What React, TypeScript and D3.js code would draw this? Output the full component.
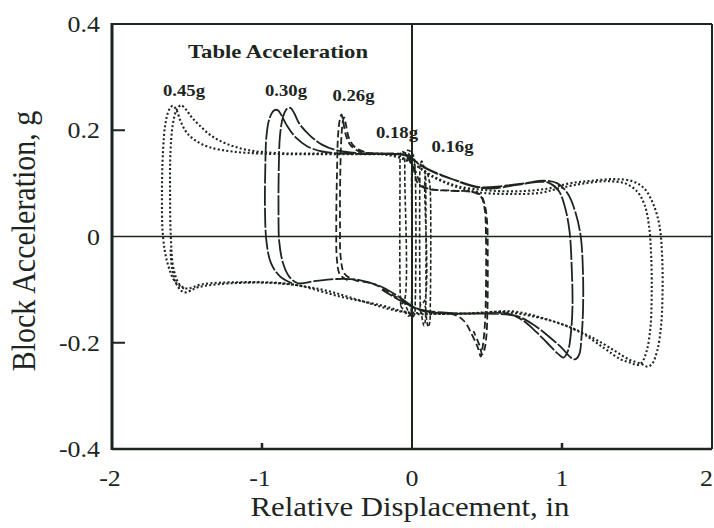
import React from "react";
import * as d3 from "d3";

type P = [number, number];

const xTicks = [-2, -1, 0, 1, 2];
const yTicks = [0.4, 0.2, 0, -0.2, -0.4];
const xTickLabels = ["-2", "-1", "0", "1", "2"];
const yTickLabels = ["0.4", "0.2", "0", "-0.2", "-0.4"];
const xMinorTicks = [-1, 1];
const yMinorTicks = [0.2, -0.2];

const seriesNames = ["0.45g", "0.30g", "0.26g", "0.18g", "0.16g"];

// 0.45g table acceleration (two cycles)
const loop045: P[] = [
  [-1.52, -0.098], [-1.58, -0.085], [-1.63, -0.05], [-1.66, 0.0], [-1.667, 0.08], [-1.66, 0.16],
  [-1.645, 0.21], [-1.62, 0.238], [-1.595, 0.246], [-1.57, 0.238], [-1.54, 0.215], [-1.5, 0.195],
  [-1.44, 0.18], [-1.35, 0.168], [-1.2, 0.16], [-1.0, 0.156], [-0.7, 0.155], [-0.4, 0.155],
  [-0.15, 0.153], [0.0, 0.138], [0.12, 0.115], [0.28, 0.095], [0.45, 0.083], [0.65, 0.08],
  [0.85, 0.082], [1.0, 0.092], [1.15, 0.1], [1.3, 0.104], [1.42, 0.1], [1.5, 0.085], [1.55, 0.06],
  [1.58, 0.02], [1.595, -0.04], [1.598, -0.11], [1.59, -0.17], [1.565, -0.215], [1.53, -0.238],
  [1.5, -0.242], [1.46, -0.238], [1.39, -0.231], [1.28, -0.21], [1.12, -0.18], [0.9, -0.156],
  [0.67, -0.141], [0.4, -0.145], [0.15, -0.146], [0.0, -0.145], [-0.2, -0.13], [-0.48, -0.113],
  [-0.8, -0.09], [-1.15, -0.086], [-1.4, -0.09], [-1.5, -0.098],
  [-1.55, -0.09], [-1.59, -0.06], [-1.608, 0.0], [-1.613, 0.08], [-1.61, 0.16], [-1.595, 0.21],
  [-1.57, 0.238], [-1.54, 0.247], [-1.51, 0.24], [-1.47, 0.225], [-1.42, 0.21], [-1.34, 0.19],
  [-1.24, 0.175], [-1.1, 0.163], [-0.9, 0.157], [-0.6, 0.156], [-0.3, 0.155], [-0.1, 0.152],
  [0.02, 0.135], [0.15, 0.112], [0.3, 0.095], [0.5, 0.087], [0.7, 0.085], [0.9, 0.09], [1.05, 0.1],
  [1.2, 0.105], [1.35, 0.108], [1.47, 0.104], [1.55, 0.09], [1.61, 0.06], [1.65, 0.02],
  [1.668, -0.04], [1.67, -0.11], [1.66, -0.17], [1.635, -0.215], [1.6, -0.24], [1.57, -0.245],
  [1.53, -0.24], [1.45, -0.232], [1.35, -0.215], [1.2, -0.19], [1.0, -0.165], [0.8, -0.15],
  [0.6, -0.142], [0.35, -0.145], [0.1, -0.145], [-0.1, -0.14], [-0.35, -0.12], [-0.6, -0.1],
  [-0.9, -0.088], [-1.2, -0.088], [-1.42, -0.095], [-1.52, -0.105], [-1.57, -0.09], [-1.6, -0.06],
  [-1.61, -0.02],
];

// 0.30g table acceleration (two cycles)
const loop030: P[] = [
  [-0.8, -0.088], [-0.88, -0.075], [-0.94, -0.05], [-0.97, -0.01], [-0.98, 0.05], [-0.978, 0.13],
  [-0.97, 0.19], [-0.95, 0.222], [-0.92, 0.237], [-0.895, 0.238], [-0.87, 0.228], [-0.83, 0.207],
  [-0.77, 0.185], [-0.7, 0.17], [-0.6, 0.16], [-0.45, 0.156], [-0.2, 0.155], [-0.05, 0.153],
  [0.02, 0.142], [0.1, 0.128], [0.25, 0.11], [0.4, 0.095], [0.52, 0.09], [0.7, 0.097], [0.85, 0.103],
  [0.92, 0.1], [0.98, 0.085], [1.02, 0.055], [1.05, 0.01], [1.065, -0.06], [1.07, -0.13],
  [1.06, -0.18], [1.04, -0.215], [1.01, -0.228], [0.97, -0.22], [0.9, -0.2], [0.83, -0.18],
  [0.74, -0.158], [0.64, -0.145], [0.45, -0.145], [0.2, -0.143], [0.03, -0.135], [-0.08, -0.115],
  [-0.2, -0.095], [-0.35, -0.082], [-0.5, -0.08], [-0.65, -0.084], [-0.76, -0.088],
  [-0.82, -0.075], [-0.86, -0.05], [-0.885, -0.01], [-0.89, 0.05], [-0.888, 0.13], [-0.88, 0.19],
  [-0.86, 0.225], [-0.835, 0.24], [-0.81, 0.242], [-0.785, 0.232], [-0.75, 0.212], [-0.68, 0.19],
  [-0.6, 0.173], [-0.5, 0.162], [-0.35, 0.157], [-0.15, 0.156], [-0.02, 0.152], [0.05, 0.135],
  [0.15, 0.12], [0.3, 0.105], [0.45, 0.093], [0.6, 0.095], [0.75, 0.1], [0.88, 0.105], [0.97, 0.1],
  [1.04, 0.08], [1.09, 0.045], [1.125, 0.0], [1.14, -0.07], [1.14, -0.14], [1.13, -0.19],
  [1.115, -0.222], [1.09, -0.231], [1.06, -0.228], [1.0, -0.21], [0.92, -0.19], [0.82, -0.168],
  [0.7, -0.15], [0.5, -0.145], [0.25, -0.145], [0.08, -0.14], [-0.05, -0.125], [-0.2, -0.1],
];

// 0.26g table acceleration (two cycles)
const loop026: P[] = [
  [-0.43, -0.082], [-0.48, -0.072], [-0.5, -0.045], [-0.505, 0.02], [-0.5, 0.12], [-0.493, 0.19],
  [-0.48, 0.222], [-0.47, 0.23], [-0.458, 0.215], [-0.44, 0.19], [-0.41, 0.172], [-0.35, 0.16],
  [-0.2, 0.156], [-0.06, 0.154], [0.0, 0.135], [0.04, 0.1], [0.1, 0.09], [0.25, 0.086], [0.4, 0.084],
  [0.46, 0.075], [0.485, 0.05], [0.493, 0.0], [0.493, -0.1], [0.485, -0.17], [0.47, -0.21],
  [0.458, -0.226], [0.44, -0.21], [0.4, -0.185], [0.35, -0.16], [0.28, -0.147], [0.12, -0.143],
  [0.02, -0.135], [-0.1, -0.115], [-0.25, -0.09], [-0.38, -0.082],
  [-0.45, -0.07], [-0.475, -0.04], [-0.48, 0.02], [-0.478, 0.12], [-0.47, 0.19], [-0.46, 0.218],
  [-0.452, 0.224], [-0.44, 0.21], [-0.42, 0.185], [-0.38, 0.168], [-0.3, 0.158], [-0.15, 0.155],
  [-0.03, 0.152], [0.02, 0.125], [0.07, 0.095], [0.15, 0.088], [0.3, 0.086], [0.45, 0.08],
  [0.48, 0.065], [0.5, 0.03], [0.505, -0.05], [0.503, -0.14], [0.495, -0.19], [0.48, -0.216],
  [0.468, -0.222], [0.45, -0.205], [0.41, -0.178],
];

// 0.18g table acceleration (two cycles)
const loop018: P[] = [
  [-0.075, -0.13], [-0.08, -0.09], [-0.08, 0.1], [-0.078, 0.15], [-0.07, 0.16], [-0.05, 0.158],
  [-0.02, 0.155], [-0.005, 0.145], [-0.003, 0.1], [-0.003, -0.12], [-0.01, -0.145], [-0.025, -0.15],
  [-0.05, -0.14], [-0.075, -0.13],
  [-0.05, -0.12], [-0.048, 0.12], [-0.045, 0.155], [-0.035, 0.162], [-0.01, 0.16], [0.01, 0.152],
  [0.02, 0.13], [0.022, -0.12], [0.015, -0.148], [0.0, -0.152], [-0.03, -0.138], [-0.048, -0.125],
];

// 0.16g table acceleration (two cycles)
const loop016: P[] = [
  [0.055, -0.13], [0.052, -0.08], [0.052, 0.1], [0.055, 0.135], [0.065, 0.142], [0.08, 0.13],
  [0.09, 0.112], [0.092, 0.08], [0.092, -0.13], [0.088, -0.16], [0.08, -0.168], [0.065, -0.15],
  [0.055, -0.13],
  [0.085, -0.12], [0.085, 0.1], [0.09, 0.115], [0.1, 0.118], [0.115, 0.105], [0.122, 0.085],
  [0.122, -0.13], [0.118, -0.162], [0.108, -0.17], [0.095, -0.15], [0.087, -0.13],
];

const loops = [loop045, loop030, loop026, loop018, loop016];
const dashes = ["2,2.3", "20,2", "7,3.5", "4,2.2", "4,2.2"];
const widths = [2.1, 1.8, 1.8, 1.6, 1.6];
// label anchor in data units (center x, baseline y)
const labelX = [-1.52, -0.84, -0.39, -0.1, 0.27];
const labelY = [0.265, 0.265, 0.255, 0.185, 0.16];

const W = 714;
const H = 528;
const ink = "#1d251f";
const serif = "'Liberation Serif', 'Times New Roman', Times, serif";

export default function App() {
  const x = d3.scaleLinear().domain([-2, 2]).range([112, 712]);
  const y = d3.scaleLinear().domain([-0.4, 0.4]).range([449, 24]);
  const line = d3
    .line<P>()
    .x((d) => x(d[0]))
    .y((d) => y(d[1]))
    .curve(d3.curveCatmullRom.alpha(0.5));

  const tStyle = { fontFamily: serif };

  return (
    <svg
      width={W}
      height={H}
      viewBox={`0 0 ${W} ${H}`}
      style={{ position: "absolute", left: 0, top: 0, background: "#fff", fontFamily: serif }}
    >
      <rect x={0} y={0} width={W} height={H} fill="#fff" />
      <defs>
        <clipPath id="plot">
          <rect x={x(-2)} y={y(0.4)} width={x(2) - x(-2)} height={y(-0.4) - y(0.4)} />
        </clipPath>
      </defs>

      {/* zero lines */}
      <line x1={x(-2)} x2={x(2)} y1={y(0)} y2={y(0)} stroke={ink} strokeWidth={1.5} />
      <line x1={x(0)} x2={x(0)} y1={y(0.4)} y2={y(-0.4)} stroke={ink} strokeWidth={2} />

      {/* loops */}
      <g clipPath="url(#plot)">
        {loops.map((pts, i) => (
          <path
            key={i}
            d={line(pts) || ""}
            fill="none"
            stroke={ink}
            strokeWidth={widths[i]}
            strokeDasharray={dashes[i]}
            strokeLinejoin="round"
          />
        ))}
      </g>

      {/* frame */}
      <line x1={x(-2)} x2={x(2)} y1={y(0.4)} y2={y(0.4)} stroke={ink} strokeWidth={2} />
      <line x1={x(-2)} x2={x(2)} y1={y(-0.4)} y2={y(-0.4)} stroke={ink} strokeWidth={2.5} />
      <line x1={x(-2)} x2={x(-2)} y1={y(0.4) - 1} y2={y(-0.4) + 1} stroke={ink} strokeWidth={3} />
      <line x1={x(2)} x2={x(2)} y1={y(0.4)} y2={y(-0.4)} stroke={ink} strokeWidth={2} />

      {/* ticks */}
      {yMinorTicks.map((v) => (
        <line key={"yt" + v} x1={x(-2)} x2={x(-2) + 13} y1={y(v)} y2={y(v)} stroke={ink} strokeWidth={2} />
      ))}
      {xMinorTicks.map((v) => (
        <line key={"xt" + v} x1={x(v)} x2={x(v)} y1={y(-0.4)} y2={y(-0.4) - 6} stroke={ink} strokeWidth={2.5} />
      ))}

      {/* tick labels */}
      {yTicks.map((v, i) => (
        <text
          key={"yl" + v}
          transform={`translate(100,${y(v) + 8}) scale(1.08,1)`}
          textAnchor="end"
          fontSize={24}
          fill={ink}
          style={tStyle}
        >
          {yTickLabels[i]}
        </text>
      ))}
      {xTicks.map((v, i) => {
        const last = i === xTicks.length - 1;
        return (
          <text
            key={"xl" + v}
            transform={`translate(${last ? W - 1 : x(v) - (v < 0 ? 2 : 0)},486) scale(1.08,1)`}
            textAnchor={last ? "end" : "middle"}
            fontSize={24}
            fill={ink}
            style={tStyle}
          >
            {xTickLabels[i]}
          </text>
        );
      })}

      {/* axis titles */}
      <text
        transform="translate(410,516) scale(1.1,1)"
        textAnchor="middle"
        fontSize={28}
        fill={ink}
        style={tStyle}
      >
        Relative Displacement, in
      </text>
      <text
        transform="translate(35,241) scale(1.1,1) rotate(-90)"
        textAnchor="middle"
        fontSize={30}
        fill={ink}
        style={tStyle}
      >
        Block Acceleration, g
      </text>

      {/* series labels */}
      <text
        x={278}
        y={58}
        textAnchor="middle"
        fontSize={19}
        fontWeight="bold"
        textLength={180}
        lengthAdjust="spacingAndGlyphs"
        fill={ink}
        style={tStyle}
      >
        Table Acceleration
      </text>
      {seriesNames.map((s, i) => (
        <text
          key={s}
          x={x(labelX[i])}
          y={y(labelY[i])}
          textAnchor="middle"
          fontSize={17}
          fontWeight="bold"
          textLength={42}
          lengthAdjust="spacingAndGlyphs"
          fill={ink}
          style={tStyle}
        >
          {s}
        </text>
      ))}
    </svg>
  );
}
